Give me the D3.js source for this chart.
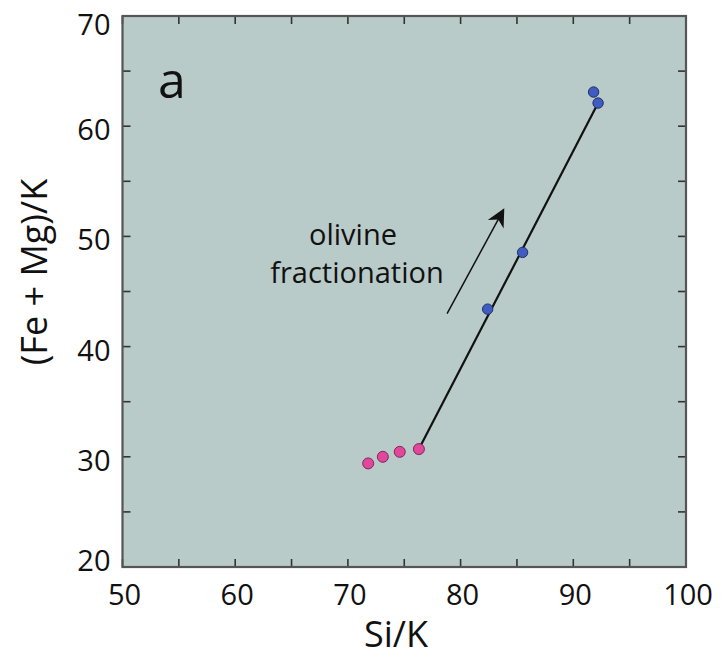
<!DOCTYPE html>
<html><head><meta charset="utf-8">
<script src="https://cdn.jsdelivr.net/npm/d3@7"></script>
<style>body{margin:0;background:#fff}svg{display:block}text{font-family:"Open Sans",sans-serif;fill:#111}</style>
</head><body>
<script>
const xTicks = [50, 60, 70, 80, 90, 100];
const yTicks = [20, 30, 40, 50, 60, 70];
const pinkX = [71.8, 73.1, 74.6, 76.3];
const pinkY = [29.4, 30.0, 30.45, 30.7];
const blueX = [91.8, 92.2, 85.5, 82.4];
const blueY = [63.1, 62.1, 48.55, 43.4];
const trendLine = [[76.3, 30.7], [92.2, 62.1]];
const arrowLine = [[78.8, 43.0], [83.8, 52.4]];

const W = 723, H = 662;
const m = {l: 122.5, r: 723 - 686, t: 16, b: 662 - 567};
const svg = d3.select("body").append("svg").attr("width", W).attr("height", H);
const x = d3.scaleLinear().domain([50, 100]).range([m.l, W - m.r]);
const y = d3.scaleLinear().domain([20, 70]).range([H - m.b, m.t]);

svg.append("rect").attr("x", x(50)).attr("y", y(70)).attr("width", x(100) - x(50)).attr("height", y(20) - y(70))
  .attr("fill", "#b8cbc9");

const minorX = d3.range(50, 101, 5), minorY = d3.range(20, 71, 5);
const g = svg.append("g").attr("stroke", "#333").attr("stroke-width", 1.6);
minorX.forEach(v => {
  g.append("line").attr("x1", x(v)).attr("x2", x(v)).attr("y1", y(20)).attr("y2", y(20) - 8);
  g.append("line").attr("x1", x(v)).attr("x2", x(v)).attr("y1", y(70)).attr("y2", y(70) + 8);
});
minorY.forEach(v => {
  g.append("line").attr("y1", y(v)).attr("y2", y(v)).attr("x1", x(50)).attr("x2", x(50) + 8);
  g.append("line").attr("y1", y(v)).attr("y2", y(v)).attr("x1", x(100)).attr("x2", x(100) - 8);
});

svg.append("rect").attr("x", x(50)).attr("y", y(70)).attr("width", x(100) - x(50)).attr("height", y(20) - y(70))
  .attr("fill", "none").attr("stroke", "#555").attr("stroke-width", 2.2);

// tick labels
svg.append("g").selectAll("text").data(xTicks).join("text")
  .attr("x", d => x(d) + 2).attr("y", y(20) + 38).attr("text-anchor", "middle")
  .attr("font-size", 29).text(d => d);
svg.append("g").selectAll("text").data(yTicks).join("text")
  .attr("x", x(50) - 12).attr("y", d => Math.max(y(70) + 19, Math.min(y(20) + 4, y(d) + 14)))
  .attr("text-anchor", "end")
  .attr("font-size", 29).text(d => d);

svg.append("text").attr("x", 396).attr("y", 647).attr("text-anchor", "middle")
  .attr("font-size", 36).text("Si/K");
svg.append("text").attr("transform", `translate(47,272) rotate(-90)`)
  .attr("text-anchor", "middle").attr("font-size", 36).text("(Fe + Mg)/K");

svg.append("text").attr("x", 158).attr("y", 98).attr("font-size", 50).text("a");

svg.append("text").attr("x", 353).attr("y", 245).attr("text-anchor", "middle").attr("font-size", 29).text("olivine");
svg.append("text").attr("x", 357).attr("y", 283).attr("text-anchor", "middle").attr("font-size", 29).text("fractionation");

const line = d3.line().x(d => x(d[0])).y(d => y(d[1]));
svg.append("path").attr("d", line(trendLine)).attr("stroke", "#111").attr("stroke-width", 2.2).attr("fill", "none");

svg.append("defs").append("marker").attr("id", "ah").attr("viewBox", "0 0 10 10")
  .attr("refX", 9).attr("refY", 5).attr("markerWidth", 22).attr("markerHeight", 18)
  .attr("markerUnits", "userSpaceOnUse").attr("orient", "auto")
  .append("path").attr("d", "M0,0 L10,5 L0,10 L3,5 Z").attr("fill", "#111");
svg.append("path").attr("d", line(arrowLine)).attr("stroke", "#111").attr("stroke-width", 1.5)
  .attr("fill", "none").attr("marker-end", "url(#ah)");

svg.append("g").selectAll("circle").data(pinkX.map((v, i) => [v, pinkY[i]])).join("circle")
  .attr("cx", d => x(d[0])).attr("cy", d => y(d[1])).attr("r", 5.5)
  .attr("fill", "#e2479b").attr("stroke", "#7a2a5a").attr("stroke-width", 1);
svg.append("g").selectAll("circle").data(blueX.map((v, i) => [v, blueY[i]])).join("circle")
  .attr("cx", d => x(d[0])).attr("cy", d => y(d[1])).attr("r", 5.2)
  .attr("fill", "#3f5cc4").attr("stroke", "#22305f").attr("stroke-width", 1);
</script>
</body></html>
